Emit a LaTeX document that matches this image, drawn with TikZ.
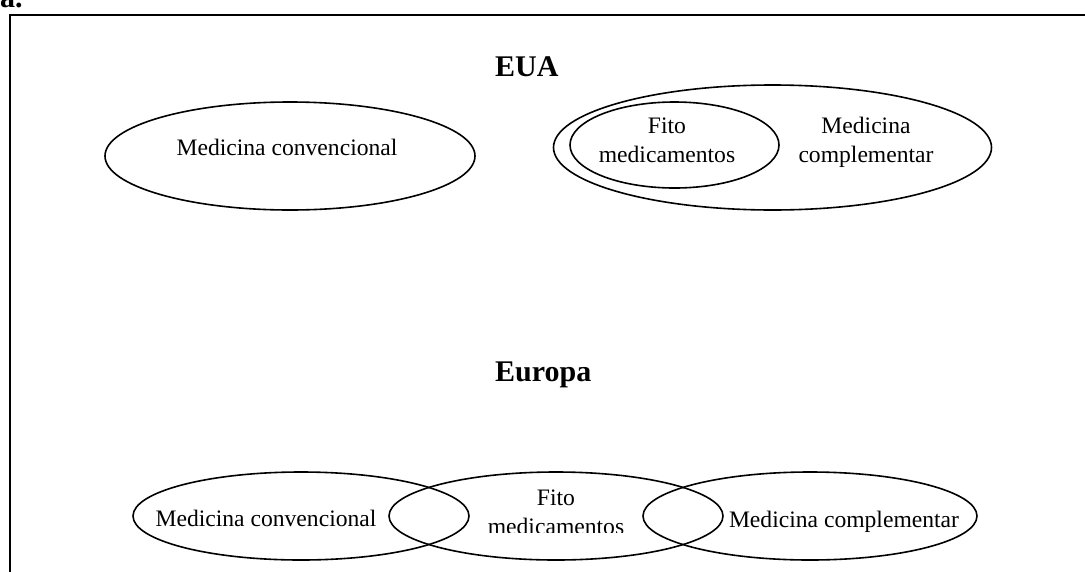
\documentclass[tikz,border=0pt]{standalone}
\usepackage{fontspec}
\setmainfont{Liberation Serif}
\usetikzlibrary{shapes.geometric}
\tikzset{
  ell/.style={draw, ellipse, line width=1.6pt, inner sep=0pt},
  txt/.style={inner sep=0pt, anchor=base, font=\fontsize{23.6}{29}\selectfont},
  ttl/.style={inner sep=0pt, anchor=base west, font=\fontsize{30}{36}\selectfont\bfseries},
}
\begin{document}
\begin{tikzpicture}[x=1pt,y=-1pt]
\useasboundingbox (0,0) rectangle (1085,571);
\clip (0,0) rectangle (1085,571);
% label and frame
\node[ttl] (lbl) at (0,7) {a.};
\coordinate (fbl) at (10,580);
\coordinate (ftl) at (10,15);
\coordinate (ftr) at (1095,15);
\draw[line width=2pt] (fbl) -- (ftl) -- (ftr);
% EUA
\node[ttl] (eua) at (495,76) {EUA};
\node[ell, minimum width=370pt, minimum height=108pt] (conv1) at (290,156) {};
\node[txt] (conv1t) at (287,155) {Medicina convencional};
\node[ell, minimum width=438pt, minimum height=125pt] (comp1) at (772.5,147.5) {};
\node[ell, minimum width=209pt, minimum height=86pt] (fito1) at (674.5,145) {};
\node[txt] (fito1a) at (667,133) {Fito};
\node[txt] (fito1b) at (667,162) {medicamentos};
\node[txt] (comp1a) at (866,133) {Medicina};
\node[txt] (comp1b) at (866,162) {complementar};
% Europa
\node[ttl] (eur) at (495,381) {Europa};
\node[ell, minimum width=336pt, minimum height=88pt] (conv2) at (301,516) {};
\node[ell, minimum width=334pt, minimum height=88pt] (fito2) at (556,516) {};
\node[ell, minimum width=334pt, minimum height=88pt] (comp2) at (810,516) {};
\node[txt] (conv2t) at (266,526) {Medicina convencional};
\node[txt] (fito2a) at (556,505) {Fito};
\begin{scope}
  \clip (470,480) rectangle (640,532);
  \node[txt] (fito2b) at (556,534) {medicamentos};
\end{scope}
\node[txt] (comp2t) at (844,527) {Medicina complementar};
\end{tikzpicture}
\end{document}
